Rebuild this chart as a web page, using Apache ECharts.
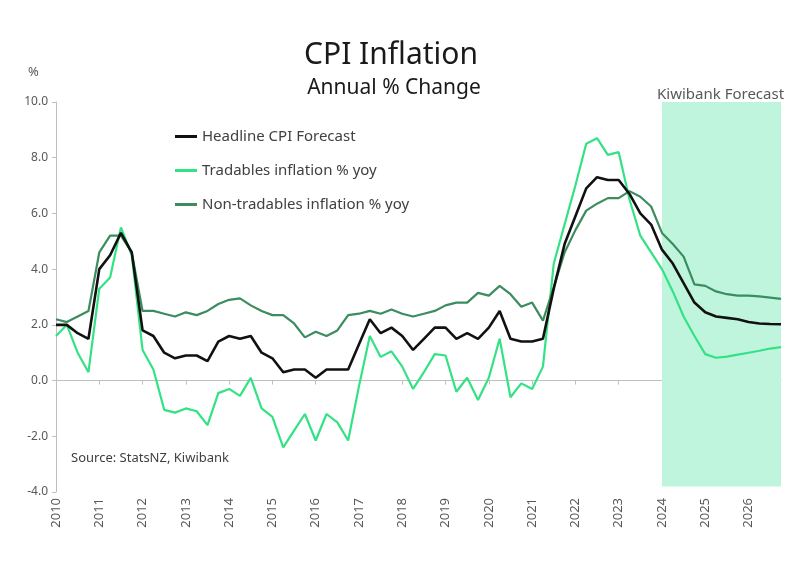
<!DOCTYPE html>
<html>
<head>
<meta charset="utf-8">
<script src="https://cdn.jsdelivr.net/npm/echarts/dist/echarts.min.js"></script>
<style>
html,body{margin:0;padding:0;background:#fff;}
#chart{width:800px;height:587px;}
</style>
</head>
<body>
<div id="chart"></div>
<script>
// Quarterly periods (quarter ending), Dec 2009 .. Sep 2026
var quarters = [
 'Dec-09',
 'Mar-10','Jun-10','Sep-10','Dec-10',
 'Mar-11','Jun-11','Sep-11','Dec-11',
 'Mar-12','Jun-12','Sep-12','Dec-12',
 'Mar-13','Jun-13','Sep-13','Dec-13',
 'Mar-14','Jun-14','Sep-14','Dec-14',
 'Mar-15','Jun-15','Sep-15','Dec-15',
 'Mar-16','Jun-16','Sep-16','Dec-16',
 'Mar-17','Jun-17','Sep-17','Dec-17',
 'Mar-18','Jun-18','Sep-18','Dec-18',
 'Mar-19','Jun-19','Sep-19','Dec-19',
 'Mar-20','Jun-20','Sep-20','Dec-20',
 'Mar-21','Jun-21','Sep-21','Dec-21',
 'Mar-22','Jun-22','Sep-22','Dec-22',
 'Mar-23','Jun-23','Sep-23','Dec-23',
 'Mar-24','Jun-24','Sep-24','Dec-24',
 'Mar-25','Jun-25','Sep-25','Dec-25',
 'Mar-26','Jun-26','Sep-26'
];
var yearLabels = ['2010','2011','2012','2013','2014','2015','2016','2017','2018','2019','2020','2021','2022','2023','2024','2025','2026'];

var headline = [
 2.0,
 2.0,1.7,1.5,4.0,
 4.5,5.3,4.6,1.8,
 1.6,1.0,0.8,0.9,
 0.9,0.7,1.4,1.6,
 1.5,1.6,1.0,0.8,
 0.3,0.4,0.4,0.1,
 0.4,0.4,0.4,1.3,
 2.2,1.7,1.9,1.6,
 1.1,1.5,1.9,1.9,
 1.5,1.7,1.5,1.9,
 2.5,1.5,1.4,1.4,
 1.5,3.3,4.9,5.9,
 6.9,7.3,7.2,7.2,
 6.7,6.0,5.6,4.7,
 4.2,3.5,2.8,2.45,
 2.3,2.25,2.2,2.1,
 2.05,2.03,2.02
];
var tradables = [
 1.6,
 2.0,1.0,0.3,3.3,
 3.7,5.5,4.5,1.1,
 0.4,-1.05,-1.15,-1.0,
 -1.1,-1.6,-0.45,-0.3,
 -0.55,0.1,-1.0,-1.3,
 -2.4,-1.8,-1.2,-2.15,
 -1.2,-1.5,-2.15,-0.2,
 1.6,0.85,1.05,0.5,
 -0.3,0.3,0.95,0.9,
 -0.4,0.1,-0.7,0.1,
 1.5,-0.6,-0.1,-0.3,
 0.5,4.2,5.6,7.0,
 8.5,8.7,8.1,8.2,
 6.5,5.2,4.6,4.0,
 3.2,2.3,1.6,0.95,
 0.82,0.86,0.93,1.0,
 1.07,1.15,1.2
];
var nonTradables = [
 2.2,
 2.1,2.3,2.5,4.6,
 5.2,5.2,4.6,2.5,
 2.5,2.4,2.3,2.45,
 2.35,2.5,2.75,2.9,
 2.95,2.7,2.5,2.35,
 2.35,2.05,1.55,1.75,
 1.6,1.8,2.35,2.4,
 2.5,2.4,2.55,2.4,
 2.3,2.4,2.5,2.7,
 2.8,2.8,3.15,3.05,
 3.4,3.1,2.65,2.8,
 2.15,3.35,4.6,5.4,
 6.1,6.35,6.55,6.55,
 6.8,6.6,6.25,5.3,
 4.9,4.45,3.45,3.4,
 3.2,3.1,3.05,3.05,
 3.02,2.98,2.93
];
var forecastStart = 'Dec-23';
var forecastEnd = 'Sep-26';

var FONT = 'Noto Sans';
var chart = echarts.init(document.getElementById('chart'), null, {renderer:'canvas'});
chart.setOption({
  animation: false,
  backgroundColor: '#ffffff',
  textStyle: {fontFamily: FONT},
  grid: {left: 56, right: 19, top: 102, bottom: 95, containLabel: false},
  legend: {
    orient: 'vertical', left: 170, top: 124, itemGap: 19,
    itemWidth: 22, itemHeight: 3, icon: 'rect',
    textStyle: {fontFamily: FONT, fontSize: 15, color: '#404040'},
    data: ['Headline CPI Forecast','Tradables inflation % yoy','Non-tradables inflation % yoy']
  },
  xAxis: [{
    type: 'category', data: quarters, boundaryGap: false, position: 'bottom',
    axisLine: {show: false, onZero: false}, axisTick: {show: false},
    axisLabel: {
      interval: 3, rotate: 90, margin: 6, color: '#595959', fontSize: 13, fontFamily: FONT,
      formatter: function (v, idx) { return yearLabels[idx / 4] || ''; }
    },
    splitLine: {show: false}
  }, {
    type: 'category', data: quarters, boundaryGap: false, position: 'bottom',
    axisLine: {show: true, onZero: true, lineStyle: {color: '#bfbfbf', width: 1}},
    axisTick: {show: true, interval: 3, length: 4, lineStyle: {color: '#bfbfbf'}},
    axisLabel: {show: false},
    splitLine: {show: false}
  }],
  yAxis: {
    type: 'value', min: -4, max: 10, interval: 2,
    axisLine: {show: true, lineStyle: {color: '#bfbfbf'}},
    axisTick: {show: true, length: 4, lineStyle: {color: '#bfbfbf'}},
    axisLabel: {color: '#595959', fontSize: 12, fontFamily: FONT, margin: 8,
      formatter: function (v) { return v.toFixed(1); }},
    splitLine: {show: false}
  },
  graphic: [
    {type: 'text', x: 391, y: 40, style: {text: 'CPI Inflation', font: '30px "Noto Sans"', fill: '#1a1a1a', textAlign: 'center'}},
    {type: 'text', x: 394, y: 78, style: {text: 'Annual % Change', font: '21px "Noto Sans"', fill: '#1a1a1a', textAlign: 'center'}},
    {type: 'text', x: 28, y: 66, style: {text: '%', font: '13px "Noto Sans"', fill: '#595959'}},
    {type: 'text', x: 657, y: 87, style: {text: 'Kiwibank Forecast', font: '15px "Noto Sans"', fill: '#595959'}},
    {type: 'text', x: 71, y: 452, style: {text: 'Source: StatsNZ, Kiwibank', font: '13px "Noto Sans"', fill: '#404040'}}
  ],
  series: [
    {
      name: 'Headline CPI Forecast', type: 'line', data: headline, xAxisIndex: 0,
      symbol: 'none', z: 5,
      lineStyle: {color: '#111111', width: 2.6}, itemStyle: {color: '#111111'}
    },
    {
      name: 'Tradables inflation % yoy', type: 'line', data: tradables, xAxisIndex: 0,
      symbol: 'none', z: 3,
      lineStyle: {color: '#33e284', width: 2.2}, itemStyle: {color: '#33e284'},
      markArea: {
        silent: true,
        itemStyle: {color: '#c0f5dd'},
        data: [[{xAxis: forecastStart, yAxis: 10}, {xAxis: forecastEnd, yAxis: -3.8}]]
      }
    },
    {
      name: 'Non-tradables inflation % yoy', type: 'line', data: nonTradables, xAxisIndex: 0,
      symbol: 'none', z: 4,
      lineStyle: {color: '#3b8c5e', width: 2.2}, itemStyle: {color: '#3b8c5e'}
    }
  ]
});
</script>
</body>
</html>
